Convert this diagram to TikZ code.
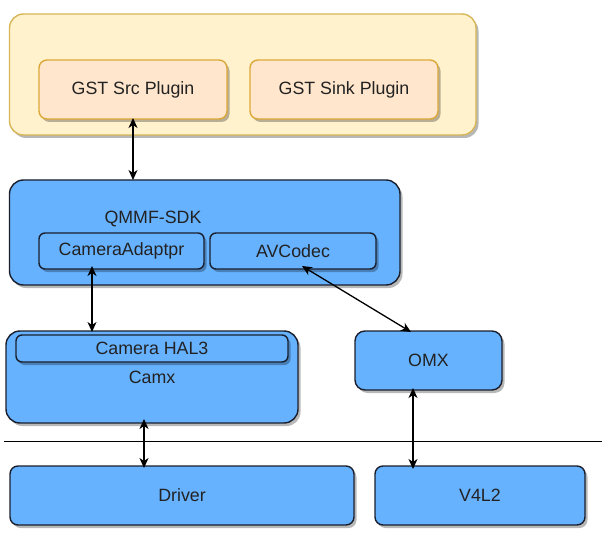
\documentclass[tikz,border=0pt]{standalone}
\usepackage{fontspec}
\setmainfont{Liberation Sans}
\usetikzlibrary{arrows.meta,shadows}
\definecolor{yfill}{HTML}{FFF2CC}
\definecolor{ystroke}{HTML}{D6B656}
\definecolor{ofill}{HTML}{FFE6CC}
\definecolor{ostroke}{HTML}{DCA83A}
\definecolor{bfill}{HTML}{66B2FF}
\definecolor{bstroke}{HTML}{1A1F2E}
\definecolor{txt}{HTML}{222222}
\begin{document}
\begin{tikzpicture}[x=1pt,y=-1pt,
  font=\fontsize{17.8}{20}\selectfont, text=txt,
  base/.style={rectangle,inner sep=0pt,outer sep=0pt,line width=1.4pt,
    drop shadow={shadow xshift=2.5pt,shadow yshift=-3pt,fill=black,opacity=0.28}},
  ybox/.style={base,draw=ystroke,fill=yfill,rounded corners=14pt},
  obox/.style={base,draw=ostroke,fill=ofill,rounded corners=8pt},
  bbox/.style={base,draw=bstroke,fill=bfill,rounded corners=14pt},
  bsmall/.style={base,draw=bstroke,fill=bfill,rounded corners=6pt},
  tip/.tip={Stealth[length=10pt,width=9pt,inset=3pt]},
  link/.style={line width=1.3pt,draw=black,tip-tip}]
\useasboundingbox (0,0) rectangle (602,540);
\fill[white] (0,0) rectangle (602,540);

% top layer
\node[ybox,minimum width=466.5pt,minimum height=121pt] (gst) at (242.75,74.5) {};
\node[obox,minimum width=188pt,minimum height=59pt] (src) at (133,89.5) {\raisebox{-1.5pt}{GST Src Plugin}};
\node[obox,minimum width=188pt,minimum height=59pt] (sink) at (344,89.5) {\raisebox{-1.5pt}{GST Sink Plugin}};

% QMMF SDK
\node[bbox,minimum width=390.5pt,minimum height=105pt] (qmmf) at (204.75,232.5) {};
\node (qmmflabel) at (153,219) {QMMF-SDK};
\node[bsmall,minimum width=165pt,minimum height=36pt] (camad) at (121.5,251) {CameraAdaptpr};
\node[bsmall,minimum width=166pt,minimum height=36pt] (avcodec) at (293,251) {AVCodec};

% Camx and OMX
\node[bbox,minimum width=292pt,minimum height=92pt] (camx) at (152,377) {\raisebox{-1pt}{Camx}};
\node[bsmall,minimum width=272pt,minimum height=27pt] (hal) at (152,348.5) {Camera HAL3};
\node[bsmall,rounded corners=10pt,minimum width=147pt,minimum height=59pt] (omx) at (428.5,360.5) {OMX};

% separator
\coordinate (sepl) at (4,441.5);
\coordinate (sepr) at (602,441.5);
\draw[line width=1.1pt] (sepl) -- (sepr);

% kernel layer
\node[bsmall,rounded corners=8pt,minimum width=344pt,minimum height=59pt] (driver) at (182,495.5) {\raisebox{-1.5pt}{Driver}};
\node[bsmall,rounded corners=8pt,minimum width=210pt,minimum height=59pt] (v4l2) at (480,495.5) {\raisebox{-1.5pt}{V4L2}};

% connectors
\draw[link] ([yshift=1pt]src.south) -- (src.south |- qmmf.north);
\draw[link] ([xshift=-29.5pt,yshift=3pt]camad.south) -- ([xshift=-60pt,yshift=-1pt]camx.north);
\draw[link] ([xshift=9pt,yshift=3pt]avcodec.south) -- ([xshift=-17.5pt,yshift=-1pt]omx.north);
\draw[link] ([xshift=-8pt,yshift=4pt]camx.south) -- ([xshift=-38pt,yshift=-2pt]driver.north);
\draw[link] ([xshift=-15.5pt,yshift=2pt]omx.south) -- ([xshift=-67pt,yshift=-3pt]v4l2.north);
\end{tikzpicture}
\end{document}
